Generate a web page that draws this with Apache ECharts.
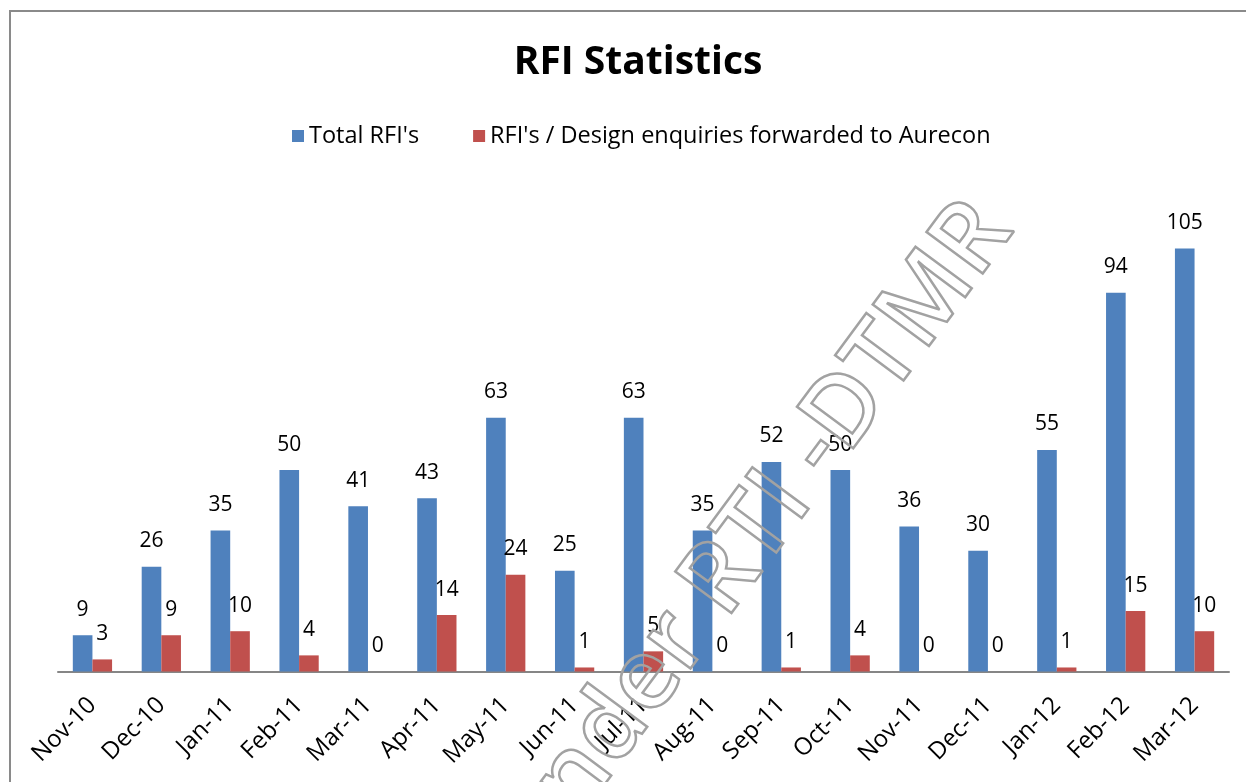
<!DOCTYPE html>
<html>
<head>
<meta charset="utf-8">
<title>RFI Statistics</title>
<script src="https://cdn.jsdelivr.net/npm/echarts@6/dist/echarts.min.js"></script>
<style>
  html, body { margin: 0; padding: 0; background: #ffffff; }
  #chart { width: 1246px; height: 782px; }
</style>
</head>
<body>
<div id="chart"></div>
<script>
// Monthly RFI counts
const months = ['Nov-10', 'Dec-10', 'Jan-11', 'Feb-11', 'Mar-11', 'Apr-11', 'May-11', 'Jun-11',
  'Jul-11', 'Aug-11', 'Sep-11', 'Oct-11', 'Nov-11', 'Dec-11', 'Jan-12', 'Feb-12', 'Mar-12'];
const totalRFIs = [9, 26, 35, 50, 41, 43, 63, 25, 63, 35, 52, 50, 36, 30, 55, 94, 105];
const forwardedRFIs = [3, 9, 10, 4, 0, 14, 24, 1, 5, 0, 1, 4, 0, 0, 1, 15, 10];
const seriesNames = ["Total RFI's", "RFI's / Design enquiries forwarded to Aurecon"];

const FONT = '"Open Sans", Lato, sans-serif';
const chart = echarts.init(document.getElementById('chart'), null, { renderer: 'canvas' });

const valueLabel = {
  show: true,
  position: 'top',
  distance: 15,
  color: '#000000',
  fontFamily: FONT,
  fontSize: 21
};

chart.setOption({
  backgroundColor: '#ffffff',
  animation: false,
  title: {
    text: 'RFI Statistics',
    left: 633,
    textAlign: 'center',
    top: 38,
    textStyle: { fontFamily: FONT, fontWeight: 'bold', fontSize: 39, color: '#000000' }
  },
  legend: {
    top: 119,
    left: 287,
    itemWidth: 12,
    itemHeight: 12,
    itemGap: 54,
    icon: 'rect',
    textStyle: { fontFamily: FONT, fontSize: 23.5, color: '#000000' },
    data: seriesNames
  },
  grid: { left: 58, right: 17, top: 188, bottom: 110.5, containLabel: false },
  xAxis: {
    type: 'category',
    data: months,
    axisLine: { show: true, lineStyle: { color: '#868686', width: 2 } },
    axisTick: { show: false },
    axisLabel: {
      rotate: 45,
      margin: 30,
      interval: 0,
      color: '#000000',
      fontFamily: FONT,
      fontSize: 24
    }
  },
  yAxis: {
    type: 'value',
    min: 0,
    max: 120,
    show: false,
    splitLine: { show: false }
  },
  series: [
    {
      name: seriesNames[0],
      type: 'bar',
      data: totalRFIs,
      barGap: '0%',
      barCategoryGap: '43%',
      itemStyle: { color: '#4F81BD' },
      label: valueLabel
    },
    {
      name: seriesNames[1],
      type: 'bar',
      data: forwardedRFIs,
      itemStyle: { color: '#C0504D' },
      label: valueLabel
    }
  ],
  graphic: [
    {
      // chart area frame
      type: 'rect',
      silent: true,
      shape: { x: 10, y: 11, width: 1300, height: 900 },
      style: { fill: 'none', stroke: '#8a8a8a', lineWidth: 2 },
      z: 100
    },
    {
      // outlined diagonal stamp
      type: 'text',
      silent: true,
      x: 992,
      y: 214,
      rotation: 53.5 * Math.PI / 180,
      style: {
        text: 'Under RTI -DTMR',
        font: '600 98px ' + FONT,
        textAlign: 'right',
        textVerticalAlign: 'middle',
        fill: 'none',
        stroke: '#a2a2a2',
        lineWidth: 2.5
      },
      z: 100
    }
  ]
});
</script>
</body>
</html>
